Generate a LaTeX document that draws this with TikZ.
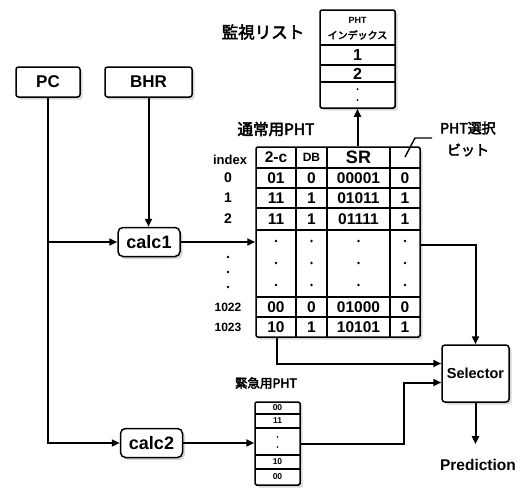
\documentclass[tikz,border=0pt]{standalone}
\usepackage{fontspec}
\setmainfont{Liberation Sans}
\newfontfamily\jp[AutoFakeBold=3]{Noto Sans CJK JP}
\usetikzlibrary{positioning,arrows.meta,shadows}

\begin{document}
\begin{tikzpicture}[
  x=1pt, y=-1pt,
  box/.style={draw, line width=1.5pt, rounded corners=2.5pt, fill=white, inner sep=0pt,
    drop shadow={shadow xshift=2.5pt, shadow yshift=-2.5pt, fill=gray!60}},
  inbox/.style={box, minimum height=30pt, font=\fontsize{17}{17}\bfseries},
  calcbox/.style={box, rounded corners=5pt, minimum width=62pt, minimum height=29pt,
    font=\fontsize{18}{18}\bfseries},
  tablebox/.style={box, rounded corners=1.5pt},
  cell/.style={inner sep=0pt, font=\fontsize{15.5}{15.5}\bfseries},
  idx/.style={inner sep=0pt, font=\fontsize{12}{12}\bfseries},
  small/.style={inner sep=0pt, font=\fontsize{8.5}{8.5}\bfseries},
  grid/.style={line width=1.1pt},
  conn/.style={draw, line width=2pt},
  arr/.style={conn, -{Triangle[length=8pt,width=7pt]}},
  lead/.style={draw, line width=1.4pt},
  jlabel/.style={inner sep=0pt}
]
  \useasboundingbox (0,0) rectangle (523,493);

  % inputs and hash units
  \node[inbox, minimum width=64pt] (pc) at (48,82) {PC};
  \node[inbox, minimum width=87pt] (bhr) at (148.5,82) {BHR};
  \node[calcbox] (calc1) at (149,242) {calc1};
  \node[calcbox] (calc2) at (151.5,443) {calc2};

  % normal PHT
  \node[jlabel, font=\fontsize{15.5}{16}\jp\bfseries] (lbnorm) at (276,129) {通常用PHT};
  \node[tablebox, minimum width=164pt, minimum height=190pt] (pht) at (338,242) {};
  \foreach \x in {296,327,390}
    \draw[grid] (\x,147) -- (\x,337);
  \foreach \y in {168,188,208,230,297,317}
    \draw[grid] (256,\y) -- (420,\y);
  \node[idx, font=\fontsize{13}{13}\bfseries] (hidx) at (230,160) {index};
  \node[cell, font=\fontsize{15.5}{15.5}\bfseries] (h2c) at (276,157.5) {2-c};
  \node[cell, font=\fontsize{12}{12}\bfseries] (hdb) at (311.5,157.5) {DB};
  \node[cell, font=\fontsize{18}{18}\bfseries] (hsr) at (358.5,157.5) {SR};
  \foreach \y/\i/\s/\a/\b/\c/\d in {178/0/14/01/0/00001/0, 198/1/14/11/1/01011/1,
      219/2/14/11/1/01111/1, 307/1022/12/00/0/01000/0, 327/1023/12/10/1/10101/1} {
    \node[idx, font=\fontsize{\s}{\s}\bfseries] (i\i) at (228,\y) {\i};
    \node[cell] (tc\i) at (276,\y) {\a};
    \node[cell] (db\i) at (311.5,\y) {\b};
    \node[cell] (sr\i) at (358.5,\y) {\c};
    \node[cell] (sb\i) at (405,\y) {\d};
  }
  \foreach \x in {276,311.5,358.5,405}
    \foreach \y in {241,263,285}
      \fill (\x,\y) circle (1.3pt);
  \foreach \y in {257,272,287}
    \fill (228,\y) circle (1.3pt);

  % PHT select bit
  \node[jlabel, font=\fontsize{14}{14}\jp\bfseries] (lbsel1) at (468,128) {PHT選択};
  \node[jlabel, font=\fontsize{14}{14}\jp\bfseries] (lbsel2) at (468,150) {ビット};
  \coordinate (selbit) at (405,157);
  \draw[lead] (432,138) -- (415,138) -- (selbit);

  % watch list
  \node[jlabel, font=\fontsize{16.5}{17}\jp\bfseries] (lblst) at (263,32) {監視リスト};
  \node[tablebox, minimum width=75pt, minimum height=98pt] (lst) at (357.5,59) {};
  \foreach \y in {45,65,82}
    \draw[grid] (320,\y) -- (395,\y);
  \node[small, font=\fontsize{9}{9}\bfseries] (lhead1) at (357.5,20) {PHT};
  \node[small, font=\fontsize{10}{10}\jp\bfseries] (lhead2) at (357.5,35) {インデックス};
  \node[cell, font=\fontsize{16}{16}\bfseries] (l1) at (357.5,55) {1};
  \node[cell, font=\fontsize{16}{16}\bfseries] (l2) at (357.5,73.5) {2};
  \foreach \y in {89,100}
    \fill (357.5,\y) circle (1pt);

  % emergency PHT
  \node[jlabel, font=\fontsize{12.5}{13}\jp\bfseries] (lbemg) at (266,383) {緊急用PHT};
  \node[tablebox, minimum width=45pt, minimum height=83pt] (epht) at (277.5,443.5) {};
  \foreach \y in {414,428,455,469}
    \draw[grid] (255,\y) -- (300,\y);
  \node[small] (e0) at (277.5,408) {00};
  \node[small] (e1) at (277.5,421) {11};
  \node[small] (e2) at (277.5,462) {10};
  \node[small] (e3) at (277.5,477) {00};
  \foreach \y in {437,447}
    \fill (277.5,\y) circle (0.9pt);

  % selector and output
  \node[box, rounded corners=3pt, minimum width=67pt, minimum height=57pt,
    font=\fontsize{14.5}{15}\bfseries] (sel) at (475.5,373.5) {Selector};
  \node[inner sep=0pt, font=\fontsize{15.5}{16}\bfseries] (pred) at (478,465) {Prediction};

  % connections
  \draw[arr] (pc.south) |- (calc2.west);
  \draw[arr] (pc.south |- calc1.west) -- (calc1.west);
  \draw[arr] (bhr.south) -- (bhr.south |- calc1.north);
  \draw[arr] (calc1) -- (pht);
  \draw[arr] (calc2.east) -- (calc2.east -| epht.west);
  \draw[arr] (pht.north -| lst.south) -- (lst.south);
  \draw[arr] ([yshift=-3pt]pht.east) -| (sel.north);
  \draw[arr] ([xshift=-61pt]pht.south) |- ([yshift=10pt]sel.west);
  \draw[arr] (epht.east) -- ++(103,0) |- ([yshift=-9pt]sel.west);
  \draw[arr, shorten >=15pt] (sel.south) -- (sel.south |- pred.north);
\end{tikzpicture}
\end{document}
